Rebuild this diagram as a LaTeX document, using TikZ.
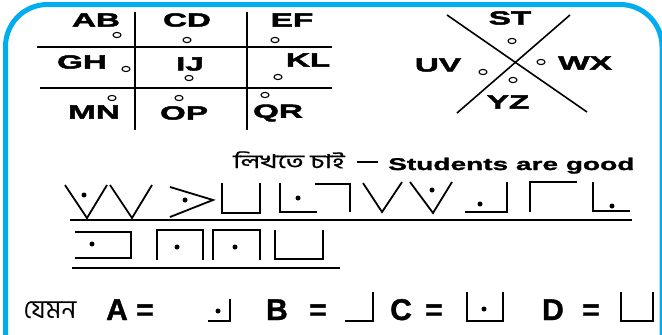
\documentclass[tikz,border=0pt]{standalone}
\usepackage{fontspec}
\setmainfont{Liberation Sans}
\newfontfamily\widefont{Liberation Sans}[FakeStretch=1.75, FakeBold=2.4]
\newfontfamily\midfont{Liberation Sans}[FakeStretch=1.65, FakeBold=1.6]
\newfontfamily\bigfont{Liberation Sans}[FakeBold=1.2]
\newfontfamily\bnfont[Script=Bengali]{Hind Siliguri}
\newfontfamily\bnwide[Script=Bengali, FakeStretch=1.45, FakeBold=0.8]{Hind Siliguri}
\definecolor{frameblue}{HTML}{00AEEF}
\begin{document}
\begin{tikzpicture}[x=1pt,y=-1pt,
  lbl/.style={font=\widefont\bfseries\fontsize{19}{19}\selectfont, inner sep=0pt},
  big/.style={font=\bigfont\bfseries\fontsize{30}{30}\selectfont, inner sep=0pt, anchor=base},
  ring/.style={line width=1.1pt},
  gridline/.style={line width=1.9pt},
  glyph/.style={line width=1.8pt},
  dotm/.style={fill, circle, inner sep=0pt, minimum size=5pt}
]
\fill[white] (0,0) rectangle (662,335);
\useasboundingbox (0,0) rectangle (662,335);
% frame
\begin{scope}
\clip (0,0) rectangle (662,335);
\draw[frameblue, line width=5pt, rounded corners=42pt] (5.5,360) -- (5.5,4.5) -- (662,4.5) -- (662,360);
\end{scope}
% tic-tac-toe grid
\draw[gridline] (135,12) -- (135,130);
\draw[gridline] (247,12) -- (247,130);
\draw[gridline] (37,47) -- (332,47);
\draw[gridline] (40,88) -- (332,88);
\node[lbl] (ab) at (96,20) {AB};
\node[lbl] (cd) at (187,20) {CD};
\node[lbl] (ef) at (292,20) {EF};
\node[lbl] (gh) at (82,62) {GH};
\node[lbl] (ij) at (190,64) {IJ};
\node[lbl] (kl) at (308,60) {KL};
\node[lbl] (mn) at (94,112) {MN};
\node[lbl] (op) at (184,113) {OP};
\node[lbl] (qr) at (278,113) {QR};
\foreach \p in {(117,35),(187,40),(275,40),(126,69),(189,78),(278,77),(112,98),(179,98),(265,95),(512,41),(483,72),(541,62),(513,80)}
  \draw[ring] \p ellipse [x radius=4pt, y radius=2.6pt];
% X figure
\draw[gridline, line width=1.6pt] (447,15) -- (587,112);
\draw[gridline, line width=1.6pt] (570,15) -- (457,113);
\node[lbl] (st) at (510,18) {ST};
\node[lbl] (uv) at (438,65) {UV};
\node[lbl] (wx) at (585,63) {WX};
\node[lbl] (yz) at (508,102) {YZ};
% heading
\node[font=\bnwide\fontsize{19}{19}\selectfont, inner sep=0pt, anchor=base west] (bn) at (233,168) {লিখতে চাই};
\draw[line width=1.2pt] (357,162) -- (378,162);
\node[font=\midfont\bfseries\fontsize{17}{17}\selectfont, inner sep=0pt, anchor=base west] (en) at (388,170) {Students are good};
% row 1
\draw[glyph] (65,185) -- (87,218) -- (107,185);
\node[dotm] at (84,195) {};
\draw[glyph] (110,185) -- (132,218) -- (152,185);
\draw[glyph] (170,187) -- (213,200) -- (170,217);
\node[dotm] at (185,200) {};
\draw[glyph] (222,183) -- (222,213) -- (260,213) -- (260,183);
\draw[glyph] (280,183) -- (280,212) -- (317,212);
\node[dotm] at (298,198) {};
\draw[glyph] (315,184) -- (350,184) -- (350,212);
\draw[glyph] (363,183) -- (382,212) -- (402,182);
\draw[glyph] (410,182) -- (433,213) -- (452,182);
\node[dotm] at (432,190) {};
\draw[glyph] (465,212) -- (507,212) -- (507,182);
\node[dotm] at (480,204) {};
\draw[glyph] (530,212) -- (530,182) -- (577,182);
\draw[glyph] (593,182) -- (593,211) -- (630,211);
\node[dotm] at (612,206) {};
\draw[line width=1.6pt] (70,220) -- (632,220);
% row 2
\draw[glyph] (75,232) -- (131,232) -- (131,258) -- (75,258);
\node[dotm] at (92,244) {};
\draw[glyph] (157,260) -- (157,230) -- (203,230) -- (203,260);
\node[dotm] at (177,247) {};
\draw[glyph] (213,260) -- (213,230) -- (260,230) -- (260,260);
\node[dotm] at (235,247) {};
\draw[glyph] (275,230) -- (275,259) -- (323,259) -- (323,230);
\draw[line width=1.6pt] (72,268) -- (340,268);
% bottom row
\node[font=\bnfont\fontsize{26}{26}\selectfont, inner sep=0pt, anchor=base] (jemon) at (50,318) {যেমন};
\node[big] (a) at (117,320) {A};
\node[big] (aeq) at (145,320) {=};
\draw[glyph] (208,321) -- (230,321) -- (230,299);
\node[dotm] at (218,311) {};
\node[big] (b) at (277,320) {B};
\node[big] (beq) at (318,320) {=};
\draw[glyph] (345,321) -- (373,321) -- (373,292);
\node[big] (c) at (401,320) {C};
\node[big] (ceq) at (434,320) {=};
\draw[glyph] (467,292) -- (467,321) -- (503,321) -- (503,292);
\node[dotm] at (484,309) {};
\node[big] (d) at (553,320) {D};
\node[big] (deq) at (591,320) {=};
\draw[glyph] (621,292) -- (621,321) -- (653,321) -- (653,292);
\end{tikzpicture}
\end{document}
